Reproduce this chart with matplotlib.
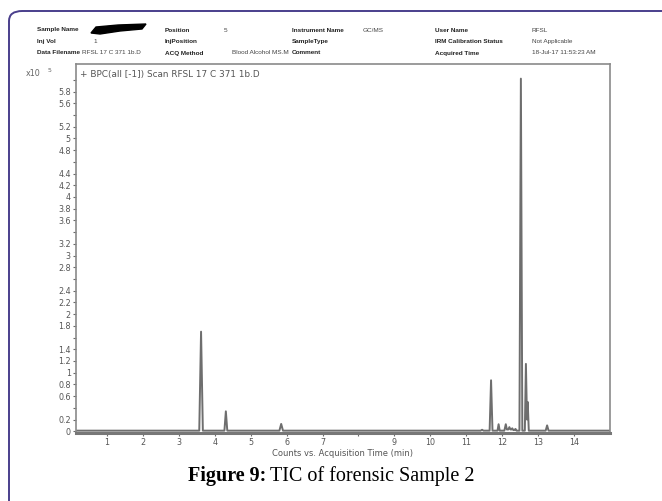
import matplotlib
matplotlib.use("Agg")
import matplotlib.pyplot as plt
from matplotlib.patches import FancyBboxPatch, Polygon

# chromatogram trace (time in min, counts in x10^5)
times = [0.14, 3.57, 3.62, 3.67, 4.27, 4.31, 4.35, 5.80, 5.85, 5.90,
         11.40, 11.44, 11.48, 11.65, 11.69, 11.73, 11.87, 11.90, 11.93,
         12.06, 12.10, 12.13, 12.17, 12.20, 12.23, 12.26, 12.28, 12.31,
         12.34, 12.37, 12.40, 12.48, 12.52, 12.56, 12.63, 12.66, 12.69,
         12.71, 12.74, 13.21, 13.25, 13.29, 15.0]
counts = [0.01, 0.01, 1.70, 0.01, 0.01, 0.34, 0.01, 0.01, 0.125, 0.01,
          0.01, 0.025, 0.01, 0.01, 0.87, 0.01, 0.01, 0.12, 0.01,
          0.01, 0.12, 0.03, 0.03, 0.07, 0.03, 0.03, 0.05, 0.02,
          0.02, 0.04, 0.01, 0.01, 6.02, 0.01, 0.01, 1.15, 0.2,
          0.5, 0.01, 0.01, 0.10, 0.01, 0.01]

yticks = [round(0.2 * i, 1) for i in range(31)]
ytick_labels = ["0", "0.2", "", "0.6", "0.8", "1", "1.2", "1.4", "", "1.8",
                "2", "2.2", "2.4", "", "2.8", "3", "3.2", "", "3.6", "3.8",
                "4", "4.2", "4.4", "", "4.8", "5", "5.2", "", "5.6", "5.8", ""]
xticks = list(range(1, 15))
xtick_labels = ["1", "2", "3", "4", "5", "6", "7", "", "9", "10", "11", "12", "13", "14"]

header = [
    [("Sample Name", True, 37), ("Position", True, 165), ("5", False, 224),
     ("Instrument Name", True, 292), ("GC/MS", False, 363),
     ("User Name", True, 435), ("RFSL", False, 532)],
    [("Inj Vol", True, 37), ("1", False, 93), ("InjPosition", True, 165),
     ("SampleType", True, 292), ("IRM Calibration Status", True, 435),
     ("Not Applicable", False, 532)],
    [("Data Filename", True, 37), ("RFSL 17 C 371 1b.D", False, 82),
     ("ACQ Method", True, 165), ("Blood Alcohol MS.M", False, 232),
     ("Comment", True, 292), ("Acquired Time", True, 435),
     ("18-Jul-17 11:53:23 AM", False, 532)],
]
header_rows = [30, 41.5, 53]

W, H = 662, 501


def px(x, y):
    return x / W, 1 - y / H


fig = plt.figure(figsize=(6.62, 5.01), dpi=100)
fig.patch.set_facecolor("white")

# outer rounded border (top and left edges only visible)
border = FancyBboxPatch(px(9, 501 + 30), (W + 30) / W, (501 + 30 - 11) / H,
                        boxstyle="round,pad=0,rounding_size=0.02",
                        transform=fig.transFigure, fill=False,
                        edgecolor="#4a3f8c", linewidth=1.4)
fig.patches.append(border)

ax = fig.add_axes([76 / W, 1 - 433 / H, (610 - 76) / W, (433 - 64) / H])
ax.plot(times, counts, color="#6e6e6e", linewidth=1.4)
ax.set_xlim(0.14, 15.0)
ax.set_ylim(-0.03, 6.27)

ax.set_yticks(yticks)
ax.set_yticklabels(ytick_labels)
ax.set_xticks(xticks)
ax.set_xticklabels(xtick_labels)
ax.tick_params(axis="both", labelsize=5.8, colors="#6a6a6a", length=2.5, width=0.8, pad=1.2)
for lab in ax.get_xticklabels() + ax.get_yticklabels():
    lab.set_fontfamily("DejaVu Sans")
    lab.set_color("#555555")
for s in ax.spines.values():
    s.set_color("#8a8a8a")
    s.set_linewidth(1.2)
ax.spines["bottom"].set_linewidth(2.2)
ax.spines["bottom"].set_color("#777777")

ax.text(0.008, 0.985, "+ BPC(all [-1]) Scan RFSL 17 C 371 1b.D", transform=ax.transAxes,
        fontsize=6.4, color="#555555", family="DejaVu Sans", va="top", ha="left")

fig.text(*px(26, 73), "x10", fontsize=5.8, color="#666666", family="DejaVu Sans", va="center")
fig.text(*px(48, 71), "5", fontsize=4.5, color="#666666", family="DejaVu Sans", va="center")

fig.text(*px(343, 454), "Counts vs. Acquisition Time (min)", fontsize=6, color="#555555",
         family="DejaVu Sans", ha="center", va="center")

# header block
for row, y in zip(header, header_rows):
    for txt, bold, x in row:
        fig.text(*px(x, y), txt, fontsize=4.6, family=["Liberation Sans Narrow", "Liberation Sans"],
                 fontweight="bold" if bold else "normal",
                 color="#222222" if bold else "#444444", va="center", ha="left")

# redacted sample name
blob = [(91, 33), (96, 27), (118, 25), (146, 24), (142, 29), (120, 31), (100, 34)]
fig.patches.append(Polygon([px(x, y) for x, y in blob], closed=True, transform=fig.transFigure,
                           facecolor="black", edgecolor="black"))

# caption
cap_y = 476
cap_bold = fig.text(*px(188, cap_y), "Figure 9:", fontsize=14.5, family="Liberation Serif",
                    fontweight="bold", va="center", ha="left")
fig.canvas.draw()
bb = cap_bold.get_window_extent()
fig.text(bb.x1 / fig.bbox.width + 4 / W, 1 - cap_y / H, "TIC of forensic Sample 2", fontsize=14.5,
         family="Liberation Serif", va="center", ha="left")

fig.savefig("out.png", dpi=100)
